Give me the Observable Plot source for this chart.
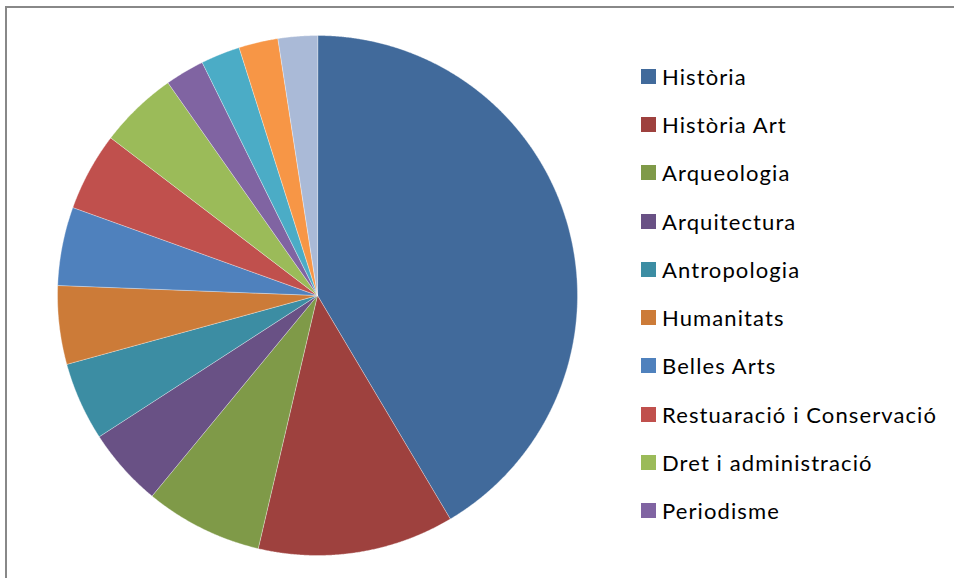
<!DOCTYPE html>
<html>
<head>
<meta charset="utf-8">
<script src="https://cdn.jsdelivr.net/npm/d3@7"></script>
<script src="https://cdn.jsdelivr.net/npm/@observablehq/plot@0.6"></script>
<style>
  html, body { margin: 0; padding: 0; width: 954px; height: 578px; overflow: hidden; background: #fff; }
  #wrap { position: relative; width: 954px; height: 578px; overflow: hidden; }
  #frame { position: absolute; left: 5px; top: 6px; width: 1100px; height: 800px; border: 2px solid #888; box-sizing: border-box; }
  #chart { position: absolute; left: 0; top: 0; }
  #legend { position: absolute; left: 641px; top: 52px; font-family: Lato, "Open Sans", sans-serif; font-size: 22px; letter-spacing: 1.1px; color: #000; }
  .item { height: 48.3px; display: flex; align-items: center; white-space: nowrap; }
  .sw { width: 15px; height: 15px; margin-right: 6px; flex: none; }
</style>
</head>
<body>
<div id="wrap">
  <div id="frame"></div>
  <div id="chart"></div>
  <div id="legend"></div>
</div>
<script>
const categories = ["Història", "Història Art", "Arqueologia", "Arquitectura", "Antropologia", "Humanitats", "Belles Arts", "Restuaració i Conservació", "Dret i administració", "Periodisme", "Categoria 11", "Categoria 12", "Categoria 13"];
const values = [17, 5, 3, 2, 2, 2, 2, 2, 2, 1, 1, 1, 1];
const colors = ["#416a9b", "#9e413e", "#7f9a48", "#695185", "#3c8da3", "#cc7b38", "#4f81bd", "#c0504d", "#9bbb59", "#8064a2", "#4bacc6", "#f79646", "#aabad7"];
const legendCount = 10;

const rows = categories.map((name, i) => ({name, value: values[i]}));
const arcs = d3.pie().sort(null).value(d => d.value)(rows);
const pts = [];
for (const a of arcs) {
  const name = a.data.name;
  pts.push({name, x: 0, y: 0});
  const n = Math.max(2, Math.ceil((a.endAngle - a.startAngle) / 0.004));
  for (let k = 0; k <= n; k++) {
    const t = a.startAngle + (a.endAngle - a.startAngle) * k / n;
    pts.push({name, x: Math.sin(t), y: Math.cos(t)});
  }
}

const chart = Plot.plot({
  width: 954,
  height: 578,
  margin: 0,
  style: {background: "transparent"},
  x: {axis: null, domain: [-1, 1], range: [57, 577]},
  y: {axis: null, domain: [-1, 1], range: [555, 35]},
  color: {domain: categories, range: colors},
  marks: [
    Plot.line(pts, {x: "x", y: "y", z: "name", fill: "name", stroke: "#ffffff", strokeWidth: 0.6, strokeOpacity: 0.6, curve: "linear-closed"})
  ]
});
document.getElementById("chart").appendChild(chart);

const legend = document.getElementById("legend");
categories.slice(0, legendCount).forEach((c, i) => {
  const it = document.createElement("div");
  it.className = "item";
  const sw = document.createElement("span");
  sw.className = "sw";
  sw.style.background = colors[i];
  const tx = document.createElement("span");
  tx.textContent = c;
  it.appendChild(sw);
  it.appendChild(tx);
  legend.appendChild(it);
});
</script>
</body>
</html>
